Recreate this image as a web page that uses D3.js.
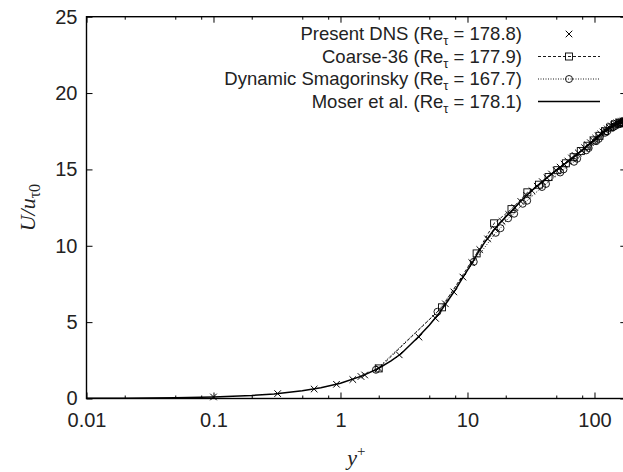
<!DOCTYPE html>
<html>
<head>
<meta charset="utf-8">
<script src="https://cdn.jsdelivr.net/npm/d3@7"></script>
<style>
  body { margin: 0; background: #fff; }
  text { font-family: "Liberation Sans", Arial, sans-serif; fill: #222; }
</style>
</head>
<body>
<div id="chart"></div>
<script>
// Moser et al. (solid line)
const moserY = [0.01, 0.02, 0.05, 0.1, 0.2, 0.3, 0.5, 0.7, 1, 1.5, 2, 2.5, 3, 4, 5, 6, 7, 8, 9, 10, 11, 12.5, 14, 16, 18, 20, 23, 26, 30, 35, 42, 50, 57, 64, 72, 80, 90, 100, 110, 120, 135, 150, 165, 178.1];
const moserU = [0.01, 0.02, 0.05, 0.1, 0.2, 0.3, 0.5, 0.7, 1.0, 1.5, 1.98, 2.46, 2.93, 3.95, 4.8, 5.6, 6.4, 7.1, 7.8, 8.4, 8.95, 9.75, 10.35, 11.0, 11.5, 11.9, 12.4, 12.9, 13.4, 13.9, 14.45, 14.95, 15.3, 15.6, 15.95, 16.25, 16.6, 16.9, 17.2, 17.45, 17.75, 17.95, 18.1, 18.15];

// Present DNS (crosses)
const dnsY = [0.1, 0.32, 0.62, 0.93, 1.25, 1.45, 1.55, 2.0, 2.9, 4.15, 5.6, 6.7, 7.8, 9.2, 10.8, 12.5, 14.4, 16.5, 18.7, 21.1, 23.6, 26.3, 29.2, 32.2, 35.4, 38.8, 42.3, 45.9, 49.7, 53.6, 57.6, 61.7, 65.9, 70.2, 74.6, 79.1, 83.6, 88.2, 92.8, 97.5, 102.2, 107, 111.8, 116.6, 121.4, 126.2, 131, 135.8, 140.6, 145.3, 150, 154.6, 159.1, 163.5, 167.8, 171.9, 175.7, 178.8];
const dnsU = [0.1, 0.32, 0.62, 0.93, 1.24, 1.44, 1.54, 1.98, 2.86, 4.02, 5.25, 6.2, 6.98, 7.95, 8.9, 9.75, 10.45, 11.1, 11.6, 12.05, 12.5, 12.9, 13.3, 13.6, 13.9, 14.2, 14.45, 14.7, 14.95, 15.15, 15.35, 15.55, 15.75, 15.92, 16.08, 16.25, 16.42, 16.6, 16.75, 16.9, 17.05, 17.2, 17.32, 17.45, 17.55, 17.65, 17.75, 17.85, 17.92, 18.0, 18.05, 18.1, 18.13, 18.16, 18.18, 18.2, 18.2, 18.2];

// Coarse-36 (squares, dashed)
const coarseY = [2.0, 6.3, 11.8, 16.2, 22.2, 29.6, 36.5, 43.5, 51.0, 59.5, 68.5, 78.0, 88.0, 98.5, 109.5, 121, 133, 145, 157.5, 170, 177.9];
const coarseU = [1.97, 5.97, 9.5, 11.47, 12.4, 13.5, 14.0, 14.5, 14.95, 15.4, 15.8, 16.2, 16.55, 16.9, 17.2, 17.5, 17.75, 17.95, 18.05, 18.1, 18.1];

// Dynamic Smagorinsky (circles, dotted)
const smagY = [1.9, 5.8, 11.2, 16.7, 18.2, 20.9, 23.3, 27.2, 29.5, 38.6, 41.5, 53.7, 57, 69, 73, 86, 90, 103, 108, 121, 126, 139, 144, 155, 160, 165, 167.7];
const smagU = [1.88, 5.68, 8.95, 10.85, 11.15, 11.8, 12.1, 12.75, 12.95, 13.85, 14.05, 14.8, 15.0, 15.5, 15.7, 16.25, 16.4, 16.85, 17.0, 17.4, 17.5, 17.75, 17.82, 17.95, 17.98, 18.02, 18.03];

const xMajor = [0.01, 0.1, 1, 10, 100];
const xMinor = [0.02, 0.05, 0.08, 0.2, 0.5, 0.8, 2, 5, 8, 20, 50, 80];
const yTicks = [0, 5, 10, 15, 20, 25];

const legendItems = [
  { name: "Present DNS (Re", re: "178.8", type: "dns" },
  { name: "Coarse-36 (Re", re: "177.9", type: "coarse" },
  { name: "Dynamic Smagorinsky (Re", re: "167.7", type: "smag" },
  { name: "Moser et al. (Re", re: "178.1", type: "moser" }
];

const width = 623, height = 472,
      margin = ({ top: 16.7, right: -3.3, bottom: 73.5, left: 86.5 });

let svg = d3.select("#chart")
    .append("svg")
    .attr("width", width)
    .attr("height", height);

let x = d3.scaleLog()
    .domain([0.01, 178])
    .range([margin.left, width - margin.right]);

let y = d3.scaleLinear()
    .domain([0, 25])
    .range([height - margin.bottom, margin.top]);

const zip = (xs, ys) => xs.map((v, i) => [v, ys[i]]);
const moser = zip(moserY, moserU),
      dns = zip(dnsY, dnsU),
      coarse = zip(coarseY, coarseU),
      smag = zip(smagY, smagU);

// axes: ticks point inward, on all four sides
function styleAxis(g) {
    g.select(".domain").remove();
    g.selectAll("line").attr("stroke", "#000").attr("stroke-width", 1);
    g.selectAll("text").style("font-size", "20px").attr("fill", "#222");
}

svg.append("g")
    .attr("transform", `translate(0,${y(0)})`)
    .call(d3.axisBottom(x).tickValues(xMajor).tickFormat(d => d >= 1 ? d3.format("d")(d) : String(d))
        .tickSizeInner(-6).tickSizeOuter(0).tickPadding(14))
    .call(styleAxis);
svg.append("g")
    .attr("transform", `translate(0,${y(0)})`)
    .call(d3.axisBottom(x).tickValues(xMinor).tickFormat("").tickSizeInner(-3).tickSizeOuter(0))
    .call(styleAxis);
svg.append("g")
    .attr("transform", `translate(0,${y(25)})`)
    .call(d3.axisTop(x).tickValues(xMajor).tickFormat("").tickSizeInner(-6).tickSizeOuter(0))
    .call(styleAxis);
svg.append("g")
    .attr("transform", `translate(0,${y(25)})`)
    .call(d3.axisTop(x).tickValues(xMinor).tickFormat("").tickSizeInner(-3).tickSizeOuter(0))
    .call(styleAxis);

svg.append("g")
    .attr("transform", `translate(${x(0.01)},0)`)
    .call(d3.axisLeft(y).tickValues(yTicks).tickSizeInner(-6).tickSizeOuter(0).tickPadding(9))
    .call(styleAxis);
svg.append("g")
    .attr("transform", `translate(${x(178)},0)`)
    .call(d3.axisRight(y).tickValues(yTicks).tickFormat("").tickSizeInner(-6).tickSizeOuter(0))
    .call(styleAxis);

// frame
svg.append("rect")
    .attr("x", x(0.01))
    .attr("y", y(25))
    .attr("width", x(178) - x(0.01))
    .attr("height", y(0) - y(25))
    .attr("fill", "none")
    .attr("stroke", "#000")
    .attr("stroke-width", 1.4);

// axis labels
svg.append("text")
    .attr("x", (x(0.01) + x(178)) / 2)
    .attr("y", 465)
    .attr("text-anchor", "middle")
    .style("font-family", "'Liberation Serif', serif")
    .style("font-size", "22px")
    .call(t => {
        t.append("tspan").style("font-style", "italic").text("y");
        t.append("tspan").attr("dy", -9).style("font-size", "15px").text("+");
    });

svg.append("text")
    .attr("transform", `translate(35,${(y(0) + y(25)) / 2}) rotate(-90)`)
    .attr("text-anchor", "middle")
    .style("font-family", "'Liberation Serif', serif")
    .style("font-size", "22px")
    .call(t => {
        t.append("tspan").style("font-style", "italic").text("U/u");
        t.append("tspan").attr("dy", 5).style("font-size", "16px").text("τ0");
    });

let line = d3.line().x(d => x(d[0])).y(d => y(d[1]));

let plot = svg.append("g");

plot.append("path").datum(smag)
    .attr("d", line).attr("fill", "none").attr("stroke", "#000")
    .attr("stroke-width", 0.9).attr("stroke-dasharray", "1,1.5");
plot.append("path").datum(coarse)
    .attr("d", line).attr("fill", "none").attr("stroke", "#000")
    .attr("stroke-width", 0.9).attr("stroke-dasharray", "3,2");
plot.append("path").datum(moser)
    .attr("d", line).attr("fill", "none").attr("stroke", "#000")
    .attr("stroke-width", 1.5);

const cross = d3.symbol().type(d3.symbolX).size(30);

function drawMarker(g, type) {
    if (type === "dns") {
        g.append("path").attr("d", cross).attr("fill", "none").attr("stroke", "#000").attr("stroke-width", 1);
    } else if (type === "coarse") {
        g.append("rect").attr("x", -3.5).attr("y", -3.5).attr("width", 7).attr("height", 7)
            .attr("fill", "none").attr("stroke", "#000").attr("stroke-width", 0.9);
    } else if (type === "smag") {
        g.append("circle").attr("r", 3.5).attr("fill", "none").attr("stroke", "#000").attr("stroke-width", 0.9);
    }
}

plot.selectAll(".smag").data(smag).join("g")
    .attr("class", "smag")
    .attr("transform", d => `translate(${x(d[0])},${y(d[1])})`)
    .each(function() { drawMarker(d3.select(this), "smag"); });
plot.selectAll(".coarse").data(coarse).join("g")
    .attr("class", "coarse")
    .attr("transform", d => `translate(${x(d[0])},${y(d[1])})`)
    .each(function() { drawMarker(d3.select(this), "coarse"); });
plot.selectAll(".dns").data(dns).join("g")
    .attr("class", "dns")
    .attr("transform", d => `translate(${x(d[0])},${y(d[1])})`)
    .each(function() { drawMarker(d3.select(this), "dns"); });

// legend
let legend = svg.selectAll(".legend")
    .data(legendItems)
    .join("g")
    .attr("class", "legend")
    .attr("transform", (d, i) => `translate(0,${40 + i * 22.5})`);

legend.append("text")
    .attr("x", 522)
    .attr("text-anchor", "end")
    .style("font-size", "18.5px")
    .call(t => {
        t.append("tspan").text(d => d.name);
        t.append("tspan").attr("dy", 5).style("font-size", "13px").text("τ");
        t.append("tspan").attr("dy", -5).text(d => " = " + d.re + ")");
    });

legend.filter(d => d.type !== "dns").append("line")
    .attr("x1", 538).attr("x2", 600).attr("y1", -6).attr("y2", -6)
    .attr("stroke", "#000")
    .attr("stroke-width", d => d.type === "moser" ? 1.5 : 0.9)
    .attr("stroke-dasharray", d => d.type === "coarse" ? "3,2" : d.type === "smag" ? "1,1.5" : null);

legend.append("g")
    .attr("transform", "translate(569,-6)")
    .each(function(d) { drawMarker(d3.select(this), d.type); });
</script>
</body>
</html>
